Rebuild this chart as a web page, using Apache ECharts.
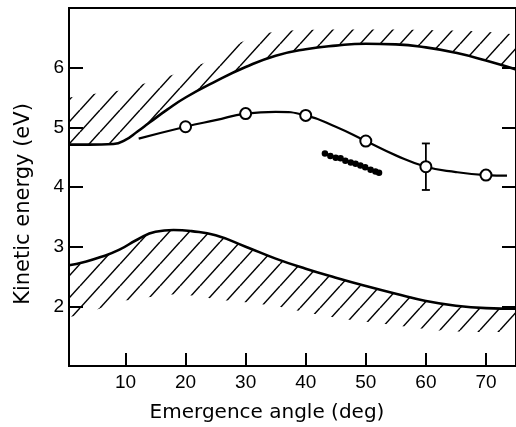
<!DOCTYPE html>
<html><head><meta charset="utf-8">
<script src="https://cdn.jsdelivr.net/npm/echarts@6/dist/echarts.min.js"></script>
<style>html,body{margin:0;padding:0;background:#fff}#c{width:516px;height:427px}</style>
</head><body><div id="c"></div>
<script>
const xTicks = [10, 20, 30, 40, 50, 60, 70];
const yTicks = [2, 3, 4, 5, 6];
const upperAngles = [0.6, 4, 8, 10, 12, 14, 17, 20, 25, 30, 35, 40, 45, 50, 55, 60, 65, 70, 75];
const upperEdge = [4.71, 4.71, 4.72, 4.79, 4.93, 5.08, 5.30, 5.50, 5.77, 6.01, 6.20, 6.31, 6.37, 6.40, 6.39, 6.34, 6.25, 6.12, 5.97];
const upperHatchTop = [5.5, 5.55, 5.6, 5.64, 5.7, 5.76, 5.85, 5.96, 6.17, 6.46, 6.6, 6.63, 6.64, 6.64, 6.64, 6.63, 6.62, 6.6, 6.55];
const lowerAngles = [0.6, 3, 6, 9, 12, 15, 18, 21, 25, 30, 35, 40, 45, 50, 55, 60, 65, 70, 75];
const lowerEdge = [2.69, 2.74, 2.83, 2.95, 3.12, 3.25, 3.28, 3.26, 3.19, 3.00, 2.80, 2.63, 2.48, 2.34, 2.21, 2.09, 2.01, 1.97, 1.96];
const lowerHatchBottom = [1.82, 1.87, 1.97, 2.08, 2.12, 2.17, 2.20, 2.18, 2.12, 2.07, 2.00, 1.90, 1.81, 1.74, 1.68, 1.62, 1.58, 1.57, 1.57];
const fitAngles = [12.2, 20, 25, 30, 35, 40, 45, 50, 55, 60, 65, 70, 73.5];
const fitEnergy = [4.81, 5.01, 5.12, 5.23, 5.26, 5.20, 5.01, 4.77, 4.53, 4.34, 4.25, 4.20, 4.19];
const measAngles = [20, 30, 40, 50, 60, 70];
const measEnergy = [5.01, 5.23, 5.20, 4.77, 4.34, 4.20];
const errAngles = [60];
const errLow = [3.95];
const errHigh = [4.73];
const dotAngles = [43.2, 44.1, 45.0, 45.8, 46.6, 47.5, 48.3, 49.1, 49.9, 50.8, 51.6, 52.2];
const dotEnergy = [4.56, 4.52, 4.49, 4.48, 4.44, 4.41, 4.39, 4.36, 4.33, 4.29, 4.26, 4.24];

function hatchPattern() {
  const w = 20, h = 22;
  const c = document.createElement('canvas');
  c.width = w; c.height = h;
  const g = c.getContext('2d');
  g.strokeStyle = '#000';
  g.lineWidth = 1.5;
  for (const dx of [-w, 0, w]) {
    g.beginPath(); g.moveTo(dx, h); g.lineTo(dx + w, 0); g.stroke();
  }
  return { image: c, repeat: 'repeat' };
}
const pat = hatchPattern();
const zip = (a, b) => a.map((v, i) => [v, b[i]]);
const SM = 0.5;
const labelFont = { fontFamily: 'Liberation Sans', fontSize: 19, color: '#000' };

const chart = echarts.init(document.getElementById('c'), null, { renderer: 'canvas' });
chart.setOption({
  animation: false,
  backgroundColor: '#fff',
  grid: { left: 69, top: 8, width: 452, height: 358, show: true, borderColor: '#000', borderWidth: 1.8, backgroundColor: 'transparent' },
  xAxis: {
    type: 'value', min: 0.6, max: 75, z: 20,
    axisLine: { onZero: false, lineStyle: { color: '#000', width: 2 } },
    axisTick: { inside: true, length: 13, customValues: xTicks, lineStyle: { color: '#000', width: 2 } },
    axisLabel: Object.assign({ customValues: xTicks, margin: 7 }, labelFont),
    splitLine: { show: false }
  },
  yAxis: [{
    type: 'value', min: 1, max: 7, position: 'left', z: 20,
    axisLine: { show: true, onZero: false, lineStyle: { color: '#000', width: 2 } },
    axisTick: { show: true, inside: true, length: 14, customValues: yTicks, lineStyle: { color: '#000', width: 2 } },
    axisLabel: Object.assign({ customValues: yTicks, margin: 5 }, labelFont),
    splitLine: { show: false }
  }, {
    type: 'value', min: 1, max: 7, position: 'right', z: 20,
    axisLine: { show: true, onZero: false, lineStyle: { color: '#000', width: 2 } },
    axisTick: { show: true, inside: true, length: 14, customValues: yTicks, lineStyle: { color: '#000', width: 2 } },
    axisLabel: { show: false },
    splitLine: { show: false }
  }],
  graphic: [
    { type: 'text', x: 24, y: 204, rotation: Math.PI / 2,
      style: { text: 'Kinetic energy (eV)', font: '21px "DejaVu Sans"', fill: '#000', textAlign: 'center', textVerticalAlign: 'middle' } },
    { type: 'text', x: 267, y: 413,
      style: { text: 'Emergence angle (deg)', font: '20px "DejaVu Sans"', fill: '#000', textAlign: 'center', textVerticalAlign: 'middle' } }
  ],
  series: [
    { name: 'upperHatchTop', type: 'line', smooth: SM, symbol: 'none', z: 1,
      data: zip(upperAngles, upperHatchTop),
      lineStyle: { width: 0, opacity: 0 }, areaStyle: { color: pat, opacity: 1, origin: 'start' } },
    { name: 'upperEdge', type: 'line', smooth: SM, symbol: 'none', z: 2,
      data: zip(upperAngles, upperEdge),
      lineStyle: { color: '#000', width: 2.6 }, areaStyle: { color: '#fff', opacity: 1, origin: 'start' } },
    { name: 'lowerEdge', type: 'line', smooth: SM, symbol: 'none', z: 3,
      data: zip(lowerAngles, lowerEdge),
      lineStyle: { color: '#000', width: 2.6 }, areaStyle: { color: pat, opacity: 1, origin: 'start' } },
    { name: 'lowerHatchBottom', type: 'line', smooth: SM, symbol: 'none', z: 4,
      data: zip(lowerAngles, lowerHatchBottom),
      lineStyle: { width: 0, opacity: 0 }, areaStyle: { color: '#fff', opacity: 1, origin: 'start' } },
    { name: 'fit', type: 'line', smooth: SM, symbol: 'none', z: 5,
      data: zip(fitAngles, fitEnergy), lineStyle: { color: '#000', width: 2.2 } },
    { name: 'err', type: 'custom', z: 6,
      data: errAngles.map((a, i) => [a, errLow[i], errHigh[i]]),
      renderItem: function (params, api) {
        const lo = api.coord([api.value(0), api.value(1)]);
        const hi = api.coord([api.value(0), api.value(2)]);
        const st = { stroke: '#000', lineWidth: 1.8 };
        return { type: 'group', children: [
          { type: 'line', shape: { x1: lo[0], y1: lo[1], x2: hi[0], y2: hi[1] }, style: st },
          { type: 'line', shape: { x1: lo[0] - 4, y1: lo[1], x2: lo[0] + 4, y2: lo[1] }, style: st },
          { type: 'line', shape: { x1: hi[0] - 4, y1: hi[1], x2: hi[0] + 4, y2: hi[1] }, style: st }
        ] };
      } },
    { name: 'measured', type: 'scatter', z: 7, symbol: 'circle', symbolSize: 11,
      data: zip(measAngles, measEnergy),
      itemStyle: { color: '#fff', borderColor: '#000', borderWidth: 2, opacity: 1 } },
    { name: 'dots', type: 'line', z: 7, symbol: 'circle', symbolSize: 6.5, showSymbol: true,
      data: zip(dotAngles, dotEnergy),
      itemStyle: { color: '#000', borderWidth: 0 }, lineStyle: { color: '#000', width: 2.4 } }
  ]
});
</script></body></html>
